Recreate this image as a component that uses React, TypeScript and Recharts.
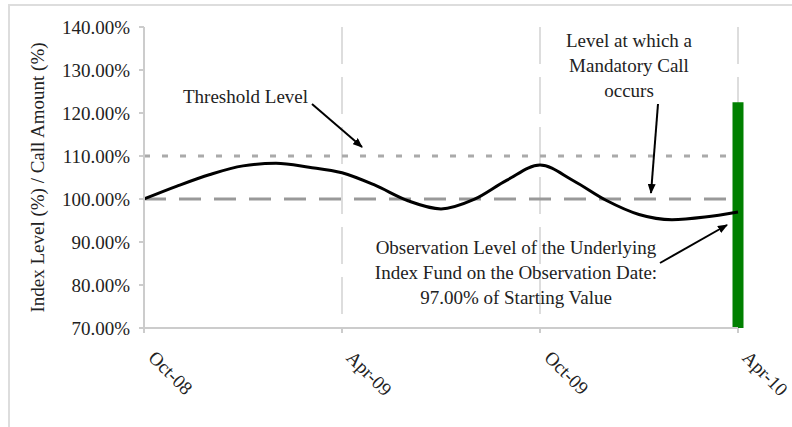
import React from 'react';
import {
  ComposedChart,
  Line,
  Bar,
  XAxis,
  YAxis,
  CartesianGrid,
  ReferenceLine,
} from 'recharts';

// months since Oct-08
const months = [0, 1, 2, 3, 4, 5, 6, 7, 8, 9, 10, 11, 12, 13, 14, 15, 16, 17, 18];
const indexLevel = [
  100, 103, 105.7, 107.7, 108.3, 107.4, 106.1, 103.2, 99.6, 97.7, 99.9, 104.4, 107.9, 104.3,
  99.7, 96.4, 95.2, 95.8, 97,
];
const callAmount = [122.5]; // only on the observation date (last month)
const xTickMonths = [0, 6, 12, 18];
const xTickLabels = ['Oct-08', 'Apr-09', 'Oct-09', 'Apr-10'];
const yTicks = [70, 80, 90, 100, 110, 120, 130, 140];
const thresholdLevel = 110;
const startingLevel = 100;

const chartData = months.map((m, i) => ({
  month: m,
  index: indexLevel[i],
  call: i === months.length - 1 ? callAmount[0] : undefined,
}));

const FONT = '"Liberation Serif", "Times New Roman", serif';
const TEXT = '#222';

const XTick = ({ x, y, payload }: any) => {
  const i = xTickMonths.indexOf(payload.value);
  const ax = x + 13;
  const ay = y + 14;
  return (
    <text
      x={ax}
      y={ay}
      dy="0.72em"
      transform={`rotate(45, ${ax}, ${ay})`}
      textAnchor="start"
      fontFamily={FONT}
      fontSize={19}
      fill={TEXT}
    >
      {xTickLabels[i]}
    </text>
  );
};

const Arrow = ({ x1, y1, x2, y2 }: any) => (
  <line x1={x1} y1={y1} x2={x2} y2={y2} stroke="#000" strokeWidth={2} markerEnd="url(#head)" />
);

export default function App() {
  return (
    <div style={{ position: 'relative', width: 792, height: 427, overflow: 'hidden', background: '#fff' }}>
      <style>{`body{margin:0}`}</style>
      <div
        style={{
          position: 'absolute',
          left: 8,
          top: 4,
          width: 800,
          height: 440,
          borderTop: '2px solid #ddd',
          borderLeft: '2px solid #ddd',
        }}
      />
      <div style={{ position: 'absolute', left: 0, top: 0 }}>
        <ComposedChart
          width={792}
          height={427}
          data={chartData}
          margin={{ top: 27, right: 54, bottom: 39, left: 0 }}
        >
          <CartesianGrid horizontal={false} stroke="#ddd" strokeWidth={2} strokeDasharray="37 13" />
          <XAxis
            dataKey="month"
            type="number"
            domain={[0, 18]}
            ticks={xTickMonths}
            height={60}
            stroke="#ccc"
            strokeWidth={2}
            tickSize={5}
            tick={<XTick />}
          />
          <YAxis
            domain={[70, 140]}
            ticks={yTicks}
            width={144}
            stroke="#ccc"
            strokeWidth={2}
            tickSize={5}
            tickMargin={9}
            tickFormatter={(v: number) => `${v.toFixed(2)}%`}
            tick={{ fontFamily: FONT, fontSize: 19, fill: TEXT }}
            label={{
              value: 'Index Level (%) / Call Amount (%)',
              angle: -90,
              position: 'insideLeft',
              offset: 37,
              style: { textAnchor: 'middle', fontFamily: FONT, fontSize: 19, fill: TEXT },
            }}
          />
          <ReferenceLine y={thresholdLevel} stroke="#aaa" strokeWidth={3} strokeDasharray="6 12" />
          <ReferenceLine y={startingLevel} stroke="#999" strokeWidth={3} strokeDasharray="22 13" />
          <Line
            dataKey="index"
            type="monotone"
            stroke="#000"
            strokeWidth={3}
            dot={false}
            isAnimationActive={false}
          />
          <Bar dataKey="call" barSize={11} fill="#008000" isAnimationActive={false} />
        </ComposedChart>
      </div>
      <svg
        width={792}
        height={427}
        style={{ position: 'absolute', left: 0, top: 0, pointerEvents: 'none' }}
        fontFamily={FONT}
        fontSize={19}
        fill={TEXT}
      >
        <defs>
          <marker id="head" markerWidth="10" markerHeight="8" refX="9" refY="4" orient="auto" markerUnits="userSpaceOnUse">
            <path d="M0,0 L10,4 L0,8 Z" fill="#000" />
          </marker>
        </defs>
        <text x={183} y={103}>Threshold Level</text>
        <Arrow x1={312} y1={104} x2={362} y2={147} />
        <text x={629} y={47} textAnchor="middle">Level at which a</text>
        <text x={629} y={72} textAnchor="middle">Mandatory Call</text>
        <text x={629} y={97} textAnchor="middle">occurs</text>
        <Arrow x1={658} y1={104} x2={651} y2={193} />
        <text x={516} y={254} textAnchor="middle">Observation Level of the Underlying</text>
        <text x={516} y={279} textAnchor="middle">Index Fund on the Observation Date:</text>
        <text x={516} y={304} textAnchor="middle">97.00% of Starting Value</text>
        <Arrow x1={660} y1={263} x2={727} y2={225} />
      </svg>
    </div>
  );
}
